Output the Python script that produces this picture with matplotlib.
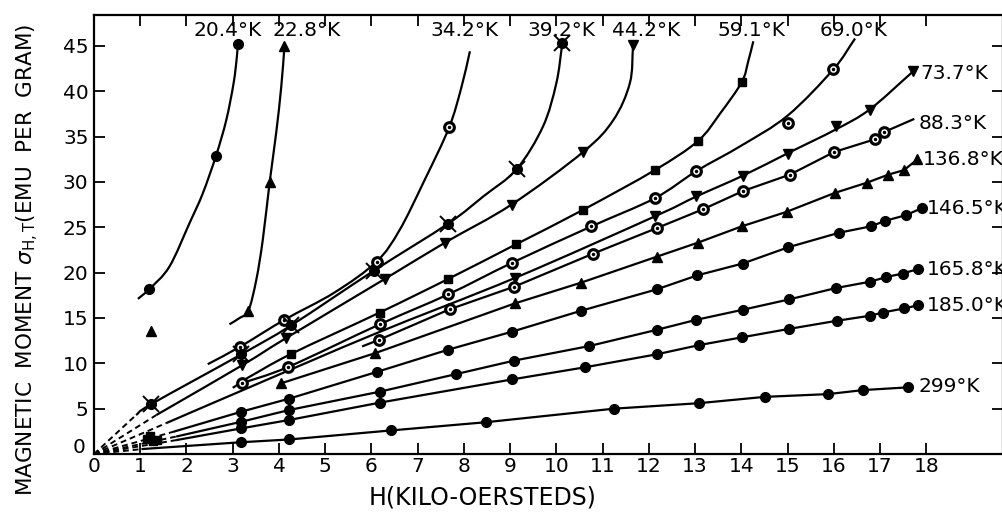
import numpy as np
import matplotlib.pyplot as plt
from matplotlib.path import Path
from matplotlib.patches import PathPatch
from matplotlib.transforms import ScaledTranslation

plt.rcParams['font.family'] = 'DejaVu Sans'
plt.rcParams['mathtext.fontset'] = 'dejavusans'

# H (kilo-oersteds) and sigma (emu per gram).
# h_/s_ = drawn curve, mh_/ms_ = plotted data points
h_204 = [0.95, 1.2, 1.63, 2.07, 2.35, 2.64, 2.86, 3.02, 3.09, 3.11]
s_204 = [17.1, 18.2, 20.65, 25.5, 28.7, 32.9, 36.8, 40.9, 43.8, 45.2]
mh_204 = [1.2, 2.64, 3.11]
ms_204 = [18.2, 32.9, 45.2]

h_228 = [2.93, 3.15, 3.34, 3.51, 3.65, 3.80, 3.94, 4.05, 4.12]
s_228 = [14.3, 15.0, 15.8, 19.2, 23.6, 30.0, 35.4, 40.5, 45.0]
mh_228 = [1.24, 3.34, 3.80, 4.12]
ms_228 = [13.6, 15.8, 30.0, 45.0]

h_342 = [2.46, 3.15, 4.12, 5.2, 6.11, 6.61, 7.15, 7.68, 7.95, 8.13]
s_342 = [9.9, 11.8, 14.8, 17.8, 21.2, 24.7, 30.2, 36.0, 40.5, 44.4]
mh_342 = [3.15, 4.12, 6.11, 7.68]
ms_342 = [11.8, 14.8, 21.2, 36.0]

h_392 = [0.91, 1.24, 3.19, 4.27, 6.05, 7.66, 8.42, 9.14, 9.71, 10.0, 10.13]
s_392 = [4.3, 5.5, 11.0, 14.2, 20.2, 25.4, 28.4, 31.4, 36.1, 40.9, 45.3]
mh_392 = [1.24, 3.19, 4.27, 6.05, 7.66, 9.14, 10.13]
ms_392 = [5.5, 11.0, 14.2, 20.2, 25.4, 31.4, 45.3]

h_442 = [1.35, 3.21, 4.16, 6.29, 7.59, 9.03, 10.58, 11.23, 11.59, 11.66]
s_442 = [4.3, 9.8, 12.8, 19.3, 23.3, 27.5, 33.3, 36.8, 40.9, 45.1]
mh_442 = [3.21, 4.16, 6.29, 7.59, 9.03, 10.58, 11.66]
ms_442 = [9.8, 12.8, 19.3, 23.3, 27.5, 33.3, 45.1]

h_591 = [3.29, 4.25, 6.18, 7.66, 9.12, 10.57, 12.13, 13.06, 13.55, 14.01, 14.15, 14.26]
s_591 = [8.3, 11.0, 15.6, 19.3, 23.1, 26.9, 31.3, 34.5, 37.6, 41.0, 43.3, 45.5]
mh_591 = [4.25, 6.18, 7.66, 9.12, 10.57, 12.13, 13.06, 14.01]
ms_591 = [11.0, 15.6, 19.3, 23.1, 26.9, 31.3, 34.5, 41.0]

h_690 = [3.0, 3.2, 4.2, 6.18, 7.66, 9.05, 10.76, 12.13, 13.03, 14.0, 15.0, 15.99, 16.46]
s_690 = [7.3, 7.8, 9.6, 14.3, 17.6, 21.1, 25.1, 28.2, 31.2, 34.0, 37.3, 42.4, 45.8]
mh_690 = [3.2, 4.2, 6.18, 7.66, 9.05, 10.76, 12.13, 13.03, 15.0, 15.99]
ms_690 = [7.8, 9.6, 14.3, 17.6, 21.1, 25.1, 28.2, 31.2, 36.5, 42.4]

h_737 = [1.56, 3.2, 6.1, 9.1, 12.13, 13.03, 14.04, 15.02, 16.05, 16.78, 17.72]
s_737 = [3.4, 7.0, 13.3, 19.4, 26.2, 28.4, 30.7, 33.2, 35.8, 38.0, 42.2]
mh_737 = [9.1, 12.13, 13.03, 14.04, 15.02, 16.05, 16.78, 17.72]
ms_737 = [19.4, 26.2, 28.4, 30.7, 33.1, 36.2, 37.9, 42.2]

h_883 = [5.82, 6.17, 7.69, 9.09, 10.8, 12.17, 13.18, 14.04, 15.05, 16.01, 16.89, 17.09, 17.72]
s_883 = [11.9, 12.6, 15.95, 18.45, 22.1, 24.9, 27.0, 29.0, 30.8, 33.3, 34.7, 35.5, 36.9]
mh_883 = [6.17, 7.69, 9.09, 10.8, 12.17, 13.18, 14.04, 15.05, 16.01, 16.89, 17.09]
ms_883 = [12.6, 15.95, 18.45, 22.1, 24.9, 27.0, 29.0, 30.8, 33.3, 34.7, 35.5]

h_1368 = [4.05, 6.07, 9.1, 10.54, 12.17, 13.06, 14.01, 14.98, 16.03, 16.71, 17.18, 17.52, 17.81]
s_1368 = [7.8, 11.1, 16.6, 18.9, 21.75, 23.3, 25.1, 26.7, 28.8, 29.9, 30.8, 31.3, 32.5]

h_1465 = [1.75, 3.19, 4.22, 6.13, 7.66, 9.05, 10.54, 12.17, 13.05, 14.03, 15.02, 16.12, 16.80, 17.11, 17.57, 17.9]
s_1465 = [2.5, 4.67, 6.1, 9.07, 11.5, 13.5, 15.8, 18.15, 19.7, 21.0, 22.8, 24.4, 25.1, 25.7, 26.35, 27.1]

h_1658 = [1.8, 3.19, 4.22, 6.18, 7.84, 9.09, 10.71, 12.18, 13.03, 14.03, 15.04, 16.05, 16.79, 17.13, 17.49, 17.83]
s_1658 = [1.95, 3.56, 4.85, 6.87, 8.82, 10.3, 11.9, 13.7, 14.8, 15.9, 17.05, 18.3, 19.0, 19.5, 19.9, 20.4]

h_1850 = [1.8, 3.19, 4.22, 6.18, 9.05, 10.62, 12.18, 13.08, 14.01, 15.04, 16.08, 16.79, 17.06, 17.52, 17.83]
s_1850 = [1.55, 2.83, 3.75, 5.66, 8.23, 9.56, 11.0, 12.0, 12.86, 13.8, 14.7, 15.25, 15.6, 16.05, 16.4]

h_299 = [1.05, 3.19, 4.22, 6.43, 8.47, 11.25, 13.08, 14.51, 15.87, 16.64, 17.61]
s_299 = [0.55, 1.3, 1.6, 2.6, 3.5, 5.0, 5.6, 6.3, 6.6, 7.05, 7.35]

# stray points near H = 1.2
cl_h = [1.15, 1.27, 1.36, 1.22]
cl_s = [1.6, 1.4, 1.5, 1.95]

# dashed extrapolations to the origin end at the start of these curves
dash_h = [h_392[0], h_442[0], h_737[0], h_1465[0], h_1658[0], h_1850[0], h_299[0]]
dash_s = [s_392[0], s_442[0], s_737[0], s_1465[0], s_1658[0], s_1850[0], s_299[0]]

top_labels = ['20.4°K', '22.8°K', '34.2°K', '39.2°K', '44.2°K', '59.1°K', '69.0°K']
top_label_h = [2.89, 4.6, 8.02, 10.1, 11.94, 14.23, 16.42]
right_labels = ['73.7°K', '88.3°K', '136.8°K', '146.5°K', '165.8°K', '185.0°K', '299°K']
right_label_h = [17.87, 17.83, 17.93, 18.02, 18.02, 18.02, 17.83]
right_label_s = [41.95, 36.4, 32.5, 27.1, 20.3, 16.4, 7.4]

fig = plt.figure(figsize=(10.02, 5.14), dpi=100)
ax = fig.add_axes([94 / 1002, 60 / 514, 909 / 1002, 439 / 514])

lw = 1.6
ms = 7
fs = 14.5


def smooth(hx, sy):
    # draw the hand-drawn curve as cubic segments through the read points
    p = np.column_stack([hx, sy])
    ext = np.vstack([2 * p[0] - p[1], p, 2 * p[-1] - p[-2]])
    verts = [p[0]]
    codes = [Path.MOVETO]
    for i in range(len(p) - 1):
        c1 = p[i] + (ext[i + 2] - ext[i]) / 6
        c2 = p[i + 1] - (ext[i + 3] - ext[i + 1]) / 6
        verts += [c1, c2, p[i + 1]]
        codes += [Path.CURVE4] * 3
    ax.add_patch(PathPatch(Path(verts, codes), fill=False, lw=lw, ec='black', zorder=3))


def filled(hx, sy, marker='o', size=ms):
    ax.plot(hx, sy, linestyle='none', marker=marker, ms=size, color='black', zorder=4)


def dotted(hx, sy):
    ax.plot(hx, sy, linestyle='none', marker='o', ms=ms, mfc='white', mec='black', mew=2.2, zorder=4)
    ax.plot(hx, sy, linestyle='none', marker='.', ms=3, color='black', zorder=5)


for hx, sy in [(h_204, s_204), (h_228, s_228), (h_342, s_342), (h_392, s_392),
               (h_442, s_442), (h_591, s_591), (h_690, s_690), (h_737, s_737)]:
    smooth(hx, sy)
for hx, sy in [(h_883, s_883), (h_1368, s_1368), (h_1465, s_1465), (h_1658, s_1658),
               (h_1850, s_1850), (h_299, s_299)]:
    ax.plot(hx, sy, color='black', lw=lw, zorder=3)

for hx, sy in zip(dash_h, dash_s):
    ax.plot([0, hx], [0, sy], color='black', lw=1.4, linestyle=(0, (3, 2)), zorder=3)

filled(mh_204, ms_204)
filled(mh_228, ms_228, '^')
dotted(mh_342, ms_342)
filled(mh_392, ms_392)
ax.plot(mh_392, ms_392, linestyle='none', marker='x', ms=11, mew=1.4, color='black', zorder=5)
filled(mh_442, ms_442, 'v')
filled(mh_591, ms_591, 's', 6)
dotted(mh_690, ms_690)
filled(mh_737, ms_737, 'v')
dotted(mh_883, ms_883)
filled(h_1368, s_1368, '^')
filled(h_1465[1:], s_1465[1:])
filled(h_1658[1:], s_1658[1:])
filled(h_1850[1:], s_1850[1:])
filled(h_299[1:], s_299[1:])
filled(cl_h, cl_s, 's', 6)

for txt, hx in zip(top_labels, top_label_h):
    ax.text(hx, 46.7, txt, ha='center', va='center', fontsize=fs)
for txt, hx, sy in zip(right_labels, right_label_h, right_label_s):
    ax.text(hx, sy, txt, ha='left', va='center', fontsize=fs, clip_on=False)

ax.set_xlim(0, 19.66)
ax.set_ylim(0, 48.4)
ax.set_xticks(range(0, 19))
ax.set_yticks(range(0, 46, 5))
ax.tick_params(direction='in', length=8, width=1.3, top=True, right=True,
               labelsize=fs, pad=2)
ax.tick_params(axis='y', pad=4)
for sp in ax.spines.values():
    sp.set_linewidth(1.6)

# the y "0" sits a little higher than its tick, clear of the x "0"
zero = ax.get_yticklabels()[0]
zero.set_transform(zero.get_transform() + ScaledTranslation(-2 / 72, 6 / 72, fig.dpi_scale_trans))

fig.text(483 / 1002, 17 / 514, 'H(KILO-OERSTEDS)', ha='center', va='center', fontsize=17)
fig.text(28 / 1002, 0.495, r'MAGNETIC  MOMENT $\sigma_{\rm H,T}$(EMU  PER  GRAM)',
         ha='center', va='center', rotation=90, fontsize=15.5)

fig.savefig('out.png', dpi=100)
